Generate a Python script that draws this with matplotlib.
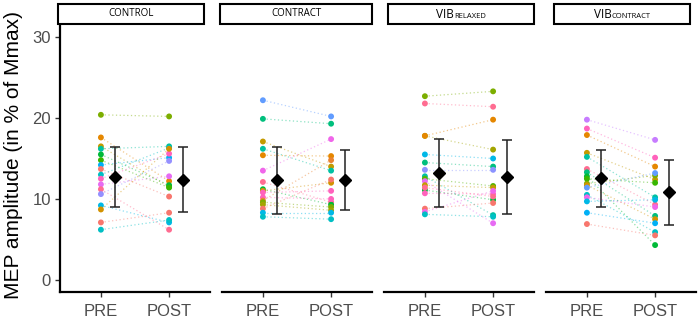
import matplotlib
matplotlib.use('Agg')
import matplotlib.pyplot as plt
from matplotlib.patches import Rectangle
from matplotlib.offsetbox import TextArea, HPacker, AnnotationBbox

# strip labels (main part + small-caps part)
strip_main = ['CONTROL', 'CONTRACT', 'VIB', 'VIB']
strip_sub = ['', '', 'RELAXED', 'CONTRACT']
times = ['PRE', 'POST']

# individual subjects, MEP amplitude in % of Mmax
control_pre = [20.4, 17.6, 16.5, 16.2, 15.5, 14.8, 14.2, 13.7, 13.0, 12.5, 11.8, 11.2, 10.6, 9.2, 8.7, 7.1, 6.2]
control_post = [20.2, 12.2, 11.5, 16.5, 11.7, 11.4, 15.1, 10.3, 16.3, 15.6, 12.8, 6.2, 14.7, 7.1, 16.2, 8.3, 7.4]
control_colors = ['#7CAE00', '#E58700', '#C49A00', '#00C19F', '#00BA38', '#39B600', '#00B0F6', '#F8766D', '#00BFC4',
                  '#FF62BC', '#E76BF3', '#FF6C91', '#9590FF', '#00B8E7', '#D39200', '#F8766D', '#00BFC4']

contract_pre = [22.2, 19.9, 17.1, 16.2, 15.4, 13.5, 12.1, 11.2, 11.0, 10.8, 10.2, 9.8, 9.6, 9.3, 8.8, 8.3, 7.8]
contract_post = [20.2, 19.3, 14.0, 13.5, 15.3, 17.4, 9.6, 9.3, 12.0, 11.0, 10.0, 14.8, 9.0, 8.6, 12.4, 8.3, 7.5]
contract_colors = ['#619CFF', '#00BF7D', '#C49A00', '#00C1A3', '#E58700', '#F066EA', '#FF6C91', '#00BA38', '#D39200',
                   '#FF62BC', '#FF62BC', '#EA8331', '#7CAE00', '#A3A500', '#F8766D', '#00B8E7', '#00BFC4']

relaxed_pre = [22.7, 21.8, 17.8, 17.8, 15.5, 14.5, 13.6, 12.8, 12.5, 12.2, 11.7, 11.1, 10.7, 11.4, 8.8, 8.4, 8.1]
relaxed_post = [23.3, 21.4, 16.1, 19.8, 15.0, 14.0, 13.6, 8.0, 11.6, 7.0, 11.4, 9.9, 10.6, 10.3, 9.5, 11.0, 7.8]
relaxed_colors = ['#7CAE00', '#FF6C91', '#A3A500', '#E58700', '#00B8E7', '#00BF7D', '#8B93FF', '#00C1A3', '#53B400',
                  '#E76BF3', '#C49A00', '#00BA38', '#FF62BC', '#FF6C91', '#F8766D', '#F066EA', '#00BFC4']

vibcon_pre = [19.8, 18.7, 17.9, 15.7, 15.2, 13.7, 13.3, 12.8, 12.5, 11.9, 11.7, 11.4, 10.5, 10.2, 9.7, 8.3, 6.9]
vibcon_post = [17.3, 15.1, 14.0, 12.4, 10.2, 9.3, 7.9, 4.3, 12.0, 12.9, 7.5, 13.2, 5.9, 9.0, 9.9, 7.0, 5.5]
vibcon_colors = ['#C77CFF', '#FF62BC', '#E58700', '#C49A00', '#00C1A3', '#FF6C91', '#00BF7D', '#00BA38', '#39B600',
                 '#7CAE00', '#D39200', '#619CFF', '#00BFC4', '#F066EA', '#00B8E7', '#00B0F6', '#F8766D']

# group mean and SD
mean_pre = [12.7, 12.3, 13.2, 12.55]
sd_pre = [3.75, 4.15, 4.2, 3.55]
mean_post = [12.4, 12.35, 12.7, 10.8]
sd_post = [4.05, 3.75, 4.6, 4.0]

panels = [
    (control_pre, control_post, control_colors),
    (contract_pre, contract_post, contract_colors),
    (relaxed_pre, relaxed_post, relaxed_colors),
    (vibcon_pre, vibcon_post, vibcon_colors),
]

W, H = 699, 319
fig = plt.figure(figsize=(W / 100, H / 100), dpi=100)

panel_left = [60, 222, 384, 546]
strip_x = [(58, 204), (220, 372), (388, 534), (554, 690)]
grey = '#4D4D4D'

for i, (pre, post, cols) in enumerate(panels):
    ax = fig.add_axes([panel_left[i] / W, (H - 292) / H, 150 / W, 267 / H])

    # dotted lines joining each subject's PRE and POST values
    for p0, p1, c in zip(pre, post, cols):
        ax.plot([1, 2], [p0, p1], linestyle=(0, (1, 2)), color=c, lw=0.9, alpha=0.45, zorder=1)
    ax.scatter([1] * len(pre), pre, s=18, c=cols, edgecolors='none', zorder=2)
    ax.scatter([2] * len(post), post, s=18, c=cols, edgecolors='none', zorder=2)

    # mean +/- SD, nudged to the right
    ax.errorbar([1.2, 2.2], [mean_pre[i], mean_post[i]], yerr=[sd_pre[i], sd_post[i]],
                fmt='D', color='black', ms=6.5, ecolor='#222222', elinewidth=1.1, capsize=3.5,
                capthick=1.1, zorder=3)

    ax.set_xlim(0.4, 2.6)
    ax.set_ylim(-1.5, 31.5)
    ax.set_xticks([1, 2])
    ax.set_xticklabels(times, fontsize=12, color=grey, family='Liberation Sans')
    ax.tick_params(axis='x', length=3.5, width=1, color='#333333', pad=5)

    for s in ['top', 'right']:
        ax.spines[s].set_visible(False)
    ax.spines['bottom'].set_linewidth(1.6)
    if i == 0:
        ax.set_yticks([0, 10, 20, 30])
        ax.set_yticklabels(['0', '10', '20', '30'], fontsize=12, color=grey, family='Liberation Sans')
        ax.tick_params(axis='y', length=3.5, width=1, color='#333333', pad=3)
        ax.spines['left'].set_linewidth(1.6)
    else:
        ax.spines['left'].set_visible(False)
        ax.set_yticks([])

    # strip box on top
    x0, x1 = strip_x[i]
    fig.patches.append(Rectangle((x0 / W, 1 - 24 / H), (x1 - x0) / W, 20 / H, transform=fig.transFigure,
                                 facecolor='white', edgecolor='black', lw=1.5))
    parts = [TextArea(strip_main[i], textprops=dict(fontsize=7 if strip_sub[i] == '' else 8.5,
                                                    family='Open Sans', color='black'))]
    if strip_sub[i]:
        parts.append(TextArea(strip_sub[i], textprops=dict(fontsize=5.5, family='Open Sans', color='black')))
    box = HPacker(children=parts, align='baseline', pad=0, sep=0)
    ab = AnnotationBbox(box, ((x0 + x1) / 2 / W, 1 - 14 / H), xycoords='figure fraction', frameon=False,
                        box_alignment=(0.5, 0.5))
    fig.add_artist(ab)

fig.text(14 / W, 1 - 155 / H, 'MEP amplitude (in % of Mmax)', rotation=90, ha='center', va='center',
         fontsize=15, family='Liberation Sans', color='black')

fig.savefig('out.png', dpi=100)
